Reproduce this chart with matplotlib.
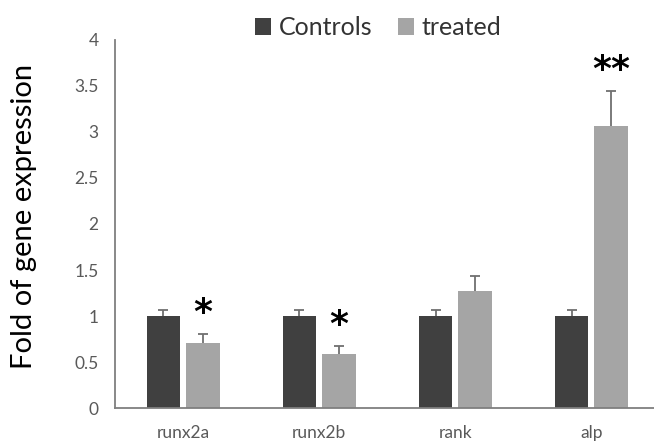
import matplotlib.pyplot as plt
import numpy as np

plt.rcParams['font.family'] = ['Lato', 'DejaVu Sans']

genes = ['runx2a', 'runx2b', 'rank', 'alp']
controls = [1.0, 1.0, 1.0, 1.0]
controls_err = [0.07, 0.07, 0.07, 0.07]
treated = [0.71, 0.59, 1.275, 3.07]
treated_err = [0.09, 0.08, 0.16, 0.37]
stars = ['*', '*', '', '**']

fig = plt.figure(figsize=(6.54, 4.44), dpi=100)
ax = fig.add_axes([0.176, 0.081, 0.824, 0.829])

x = np.arange(len(genes))
w = 0.245
zeros = [0] * len(genes)
ax.bar(x - 0.145, controls, w, color='#404040', label='Controls')
ax.bar(x + 0.145, treated, w, color='#a5a5a5', label='treated')

# upper-only error bars
for xs, vals, errs in [(x - 0.145, controls, controls_err), (x + 0.145, treated, treated_err)]:
    eb = ax.errorbar(xs, vals, yerr=[zeros, errs], fmt='none', ecolor='#6f6f6f',
                     capsize=3.5, elinewidth=1.3, capthick=1.3)
    eb[1][0].set_visible(False)

# significance marks
for i, s in enumerate(stars):
    if s:
        ax.annotate(s, (x[i] + 0.145, treated[i] + treated_err[i]), xytext=(0, 3),
                    textcoords='offset points', ha='center', va='bottom',
                    fontsize=26, fontweight='bold', family='DejaVu Sans')

ax.set_xlim(-0.5, 3.46)
ax.set_ylim(0, 4)
ax.set_yticks(np.arange(0, 4.01, 0.5))
ax.set_yticklabels(['0', '0.5', '1', '1.5', '2', '2.5', '3', '3.5', '4'])
ax.set_xticks(x)
ax.set_xticklabels(genes)
ax.tick_params(length=0, labelsize=12.5, labelcolor='#595959', pad=12)
for side in ['top', 'right']:
    ax.spines[side].set_visible(False)
for side in ['left', 'bottom']:
    ax.spines[side].set_color('#7f7f7f')
    ax.spines[side].set_linewidth(1.3)

ax.set_ylabel('Fold of gene expression', fontsize=21)
ax.yaxis.set_label_coords(-0.145, 0.52)
ax.legend(loc='upper center', bbox_to_anchor=(0.488, 1.125), ncol=2, frameon=False,
          fontsize=18, handlelength=0.65, handleheight=0.65, handletextpad=0.3,
          columnspacing=1.0, labelcolor='#333333')

fig.savefig('out.png', dpi=100)
